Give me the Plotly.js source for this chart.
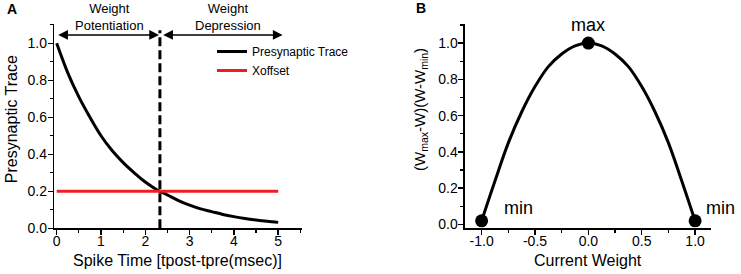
<!DOCTYPE html>
<html>
<head>
<meta charset="utf-8">
<script src="https://cdn.plot.ly/plotly-3.0.1.min.js"></script>
<style>html,body{margin:0;padding:0;background:#fff;}#chart{width:741px;height:274px;}</style>
</head>
<body>
<div id="chart"></div>
<script>
// Panel A: presynaptic trace vs spike time
var spikeTime = [0, 0.25, 0.5, 0.75, 1.0, 1.25, 1.5, 1.75, 2.0, 2.25, 2.5, 2.75, 3.0, 3.25, 3.5, 3.75, 4.0, 4.25, 4.5, 4.75, 5.0];
var presynTrace = [1.0, 0.84, 0.71, 0.60, 0.50, 0.42, 0.355, 0.30, 0.25, 0.21, 0.18, 0.15, 0.125, 0.105, 0.09, 0.075, 0.063, 0.053, 0.045, 0.038, 0.032];
var xoffsetT = [0, 5];
var xoffsetY = [0.2, 0.2];
var boundaryT = [2.33, 2.33];
var boundaryY = [0, 1.07];
var arrowY = 1.045;
var potentiationSpan = [0, 2.31];
var depressionSpan = [2.37, 5.1];

// Panel B: (Wmax-W)(W-Wmin) vs current weight
var weightW = [-1.0, -0.875, -0.75, -0.625, -0.5, -0.375, -0.25, -0.125, 0, 0.125, 0.25, 0.375, 0.5, 0.625, 0.75, 0.875, 1.0];
var weightF = [0.02, 0.24, 0.45, 0.62, 0.76, 0.87, 0.94, 0.985, 1.0, 0.985, 0.94, 0.87, 0.76, 0.62, 0.45, 0.24, 0.02];
var pointW = [-1.0, 0, 1.0];
var pointF = [0.02, 1.0, 0.02];
var weightTickVals = [-1.0, -0.5, 0, 0.5, 1.0];
var weightTickText = ['-1.0', '-0.5', '0.0', '0.5', '1.0'];

var FONT = 'Liberation Sans, Arial, sans-serif';

var traces = [
  {x: spikeTime, y: presynTrace, type: 'scatter', mode: 'lines', name: 'Presynaptic Trace',
   line: {color: '#000', width: 3, shape: 'spline'}, xaxis: 'x', yaxis: 'y'},
  {x: xoffsetT, y: xoffsetY, type: 'scatter', mode: 'lines', name: 'Xoffset',
   line: {color: '#ee1c24', width: 3}, xaxis: 'x', yaxis: 'y'},
  {x: boundaryT, y: boundaryY, type: 'scatter', mode: 'lines', showlegend: false,
   line: {color: '#000', width: 3, dash: '9px,4px'}, xaxis: 'x', yaxis: 'y'},
  {x: weightW, y: weightF, type: 'scatter', mode: 'lines', showlegend: false,
   line: {color: '#000', width: 3, shape: 'spline'}, xaxis: 'x2', yaxis: 'y2'},
  {x: pointW, y: pointF, type: 'scatter', mode: 'markers', showlegend: false,
   marker: {color: '#000', size: 13}, cliponaxis: false, xaxis: 'x2', yaxis: 'y2'}
];

function axisBase() {
  return {
    showline: true, linecolor: '#000', linewidth: 1.5, mirror: false,
    showgrid: false, zeroline: false,
    ticks: 'outside', ticklen: 5, tickwidth: 1.5, tickcolor: '#000',
    tickfont: {family: FONT, size: 14, color: '#000'}
  };
}
var minorX = function (d) { return {dtick: d, ticklen: 3, tickwidth: 1.2, tickcolor: '#000', ticks: 'outside'}; };

var xa = Object.assign(axisBase(), {domain: [0.0733, 0.4071], range: [-0.054, 5.53], tick0: 0, dtick: 1,
  minor: minorX(0.5), anchor: 'y', ticklabelstandoff: -6});
var ya = Object.assign(axisBase(), {domain: [0.1668, 0.9124], range: [0, 1.104], tick0: 0, dtick: 0.2, tickformat: '.1f',
  minor: minorX(0.1), anchor: 'x', ticklabelstandoff: -2});
var xa2 = Object.assign(axisBase(), {domain: [0.6275, 0.9591], range: [-1.156, 1.146],
  tickmode: 'array', tickvals: weightTickVals, ticktext: weightTickText,
  minor: {tickmode: 'linear', tick0: 0, dtick: 0.25, ticklen: 3, tickwidth: 1.2, tickcolor: '#000', ticks: 'outside'},
  anchor: 'y2', ticklabelstandoff: -6});
var ya2 = Object.assign(axisBase(), {domain: [0.1668, 0.9124], range: [-0.021, 1.105], tick0: 0, dtick: 0.2, tickformat: '.1f',
  minor: minorX(0.1), anchor: 'x2', ticklabelstandoff: -2});

function txt(text, x, y, size, opts) {
  return Object.assign({text: text, x: x, y: y, xref: 'paper', yref: 'paper', showarrow: false,
    xanchor: 'center', yanchor: 'middle', font: {family: FONT, size: size, color: '#000'}}, opts || {});
}
function dblArrow(span) {
  return {x: span[1], y: arrowY, ax: span[0], ay: arrowY, xref: 'x', yref: 'y', axref: 'x', ayref: 'y',
    text: '', showarrow: true, arrowside: 'end+start', arrowhead: 2, startarrowhead: 2,
    arrowsize: 1.3, startarrowsize: 1.3, arrowwidth: 1.5, arrowcolor: '#000', standoff: 0, startstandoff: 0};
}

var annotations = [
  txt('<b>A</b>', 11.5 / 741, 1 - 9 / 274, 14),
  txt('<b>B</b>', 421 / 741, 1 - 8 / 274, 14),
  txt('Presynaptic Trace', 11.7 / 741, 1 - 119.5 / 274, 16, {textangle: -90}),
  txt('Spike Time [tpost-tpre(msec)]', 177 / 741, 1 - 260 / 274, 16),
  txt('(W<sub>max</sub>-W)(W-W<sub>min</sub>)', 420 / 741, 1 - 110 / 274, 15, {textangle: -90}),
  txt('Current Weight', 588 / 741, 1 - 260 / 274, 16),
  txt('Weight<br>Potentiation', 1.2, 1 - 16.5 / 274, 13, {xref: 'x'}),
  txt('Weight<br>Depression', 3.86, 1 - 16.5 / 274, 13, {xref: 'x'}),
  dblArrow(potentiationSpan),
  dblArrow(depressionSpan),
  txt('max', 588 / 741, 1 - 25 / 274, 18),
  txt('min', 518 / 741, 1 - 208 / 274, 18),
  txt('min', 720 / 741, 1 - 208 / 274, 18)
];

var layout = {
  width: 741, height: 274,
  margin: {l: 0, r: 0, t: 0, b: 0},
  paper_bgcolor: '#fff', plot_bgcolor: 'rgba(0,0,0,0)',
  showlegend: true,
  legend: {x: 212 / 741, y: 1 - 37 / 274, xanchor: 'left', yanchor: 'top', bgcolor: 'rgba(0,0,0,0)',
    font: {family: FONT, size: 12, color: '#000'}, itemwidth: 30, tracegroupgap: 0},
  xaxis: xa, yaxis: ya, xaxis2: xa2, yaxis2: ya2,
  annotations: annotations
};

Plotly.newPlot('chart', traces, layout, {staticPlot: true, displayModeBar: false});
</script>
</body>
</html>
